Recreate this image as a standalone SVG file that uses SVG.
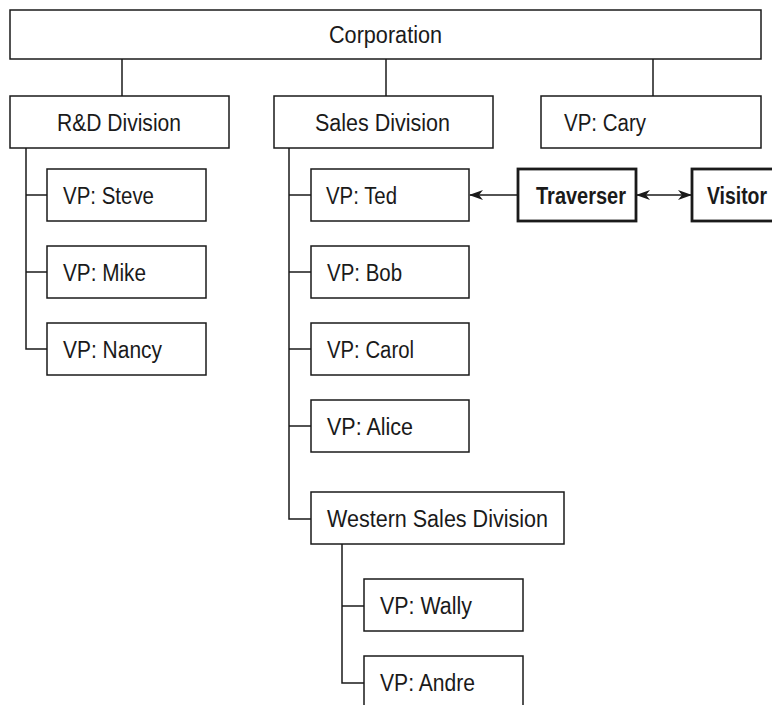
<svg xmlns="http://www.w3.org/2000/svg" width="772" height="705" viewBox="0 0 772 705">
<style>
.box{fill:#fff;stroke:#1a1a1a;stroke-width:1.5}
.bold{fill:#fff;stroke:#1a1a1a;stroke-width:2.8}
.t{font-family:"Liberation Sans Narrow","Liberation Sans",Arial,sans-serif;font-size:23px;fill:#1a1a1a}
.tb{font-family:"Liberation Sans Narrow","Liberation Sans",Arial,sans-serif;font-size:23px;font-weight:bold;fill:#1a1a1a}
.ln{fill:none;stroke:#1a1a1a;stroke-width:1.5}
</style>
<defs>
<marker id="ah" viewBox="0 0 14 10" refX="13" refY="5" markerWidth="14" markerHeight="10" markerUnits="userSpaceOnUse" orient="auto-start-reverse">
<path d="M0,0 L14,5 L0,10 L4,5 Z" fill="#1a1a1a"/>
</marker>
</defs>
<rect width="772" height="705" fill="#fff"/>
<g id="connectors">
<line class="ln" x1="122" y1="59" x2="122" y2="96"/>
<line class="ln" x1="386" y1="59" x2="386" y2="96"/>
<line class="ln" x1="653" y1="59" x2="653" y2="96"/>
<polyline class="ln" points="26,148 26,349 47,349"/>
<line class="ln" x1="26" y1="195" x2="47" y2="195"/>
<line class="ln" x1="26" y1="272" x2="47" y2="272"/>
<polyline class="ln" points="289,148 289,519 311,519"/>
<line class="ln" x1="289" y1="195" x2="311" y2="195"/>
<line class="ln" x1="289" y1="272" x2="311" y2="272"/>
<line class="ln" x1="289" y1="349" x2="311" y2="349"/>
<line class="ln" x1="289" y1="426" x2="311" y2="426"/>
<polyline class="ln" points="342,544 342,683 364,683"/>
<line class="ln" x1="342" y1="606" x2="364" y2="606"/>
<line class="ln" x1="518" y1="195" x2="470" y2="195" marker-end="url(#ah)"/>
<line class="ln" x1="637" y1="195" x2="691" y2="195" marker-start="url(#ah)" marker-end="url(#ah)"/>
</g>
<g id="corporation"><rect class="box" x="10" y="10" width="751" height="49"/><text class="t" x="329" y="43" textLength="113" lengthAdjust="spacingAndGlyphs">Corporation</text></g>
<g id="rd-division"><rect class="box" x="10" y="96" width="219" height="52"/><text class="t" x="57" y="131" textLength="124" lengthAdjust="spacingAndGlyphs">R&amp;D Division</text></g>
<g id="sales-division"><rect class="box" x="274" y="96" width="219" height="52"/><text class="t" x="315" y="131" textLength="135" lengthAdjust="spacingAndGlyphs">Sales Division</text></g>
<g id="vp-cary"><rect class="box" x="541" y="96" width="220" height="52"/><text class="t" x="564" y="131" textLength="82" lengthAdjust="spacingAndGlyphs">VP: Cary</text></g>
<g id="vp-steve"><rect class="box" x="47" y="169" width="159" height="52"/><text class="t" x="63" y="204" textLength="91" lengthAdjust="spacingAndGlyphs">VP: Steve</text></g>
<g id="vp-mike"><rect class="box" x="47" y="246" width="159" height="52"/><text class="t" x="63" y="281" textLength="83" lengthAdjust="spacingAndGlyphs">VP: Mike</text></g>
<g id="vp-nancy"><rect class="box" x="47" y="323" width="159" height="52"/><text class="t" x="63" y="358" textLength="99" lengthAdjust="spacingAndGlyphs">VP: Nancy</text></g>
<g id="vp-ted"><rect class="box" x="311" y="169" width="158" height="52"/><text class="t" x="326" y="204" textLength="71" lengthAdjust="spacingAndGlyphs">VP: Ted</text></g>
<g id="vp-bob"><rect class="box" x="311" y="246" width="158" height="52"/><text class="t" x="327" y="281" textLength="75" lengthAdjust="spacingAndGlyphs">VP: Bob</text></g>
<g id="vp-carol"><rect class="box" x="311" y="323" width="158" height="52"/><text class="t" x="327" y="358" textLength="87" lengthAdjust="spacingAndGlyphs">VP: Carol</text></g>
<g id="vp-alice"><rect class="box" x="311" y="400" width="158" height="52"/><text class="t" x="327" y="435" textLength="86" lengthAdjust="spacingAndGlyphs">VP: Alice</text></g>
<g id="western-sales-division"><rect class="box" x="311" y="492" width="253" height="52"/><text class="t" x="327" y="527" textLength="221" lengthAdjust="spacingAndGlyphs">Western Sales Division</text></g>
<g id="vp-wally"><rect class="box" x="364" y="579" width="159" height="52"/><text class="t" x="380" y="614" textLength="92" lengthAdjust="spacingAndGlyphs">VP: Wally</text></g>
<g id="vp-andre"><rect class="box" x="364" y="656" width="159" height="60"/><text class="t" x="380" y="691" textLength="95" lengthAdjust="spacingAndGlyphs">VP: Andre</text></g>
<g id="traverser"><rect class="bold" x="518" y="169" width="118" height="52"/><text class="tb" x="536" y="204" textLength="90" lengthAdjust="spacingAndGlyphs">Traverser</text></g>
<g id="visitor"><rect class="bold" x="692" y="169" width="90" height="52"/><text class="tb" x="707" y="204" textLength="60" lengthAdjust="spacingAndGlyphs">Visitor</text></g>
</svg>
